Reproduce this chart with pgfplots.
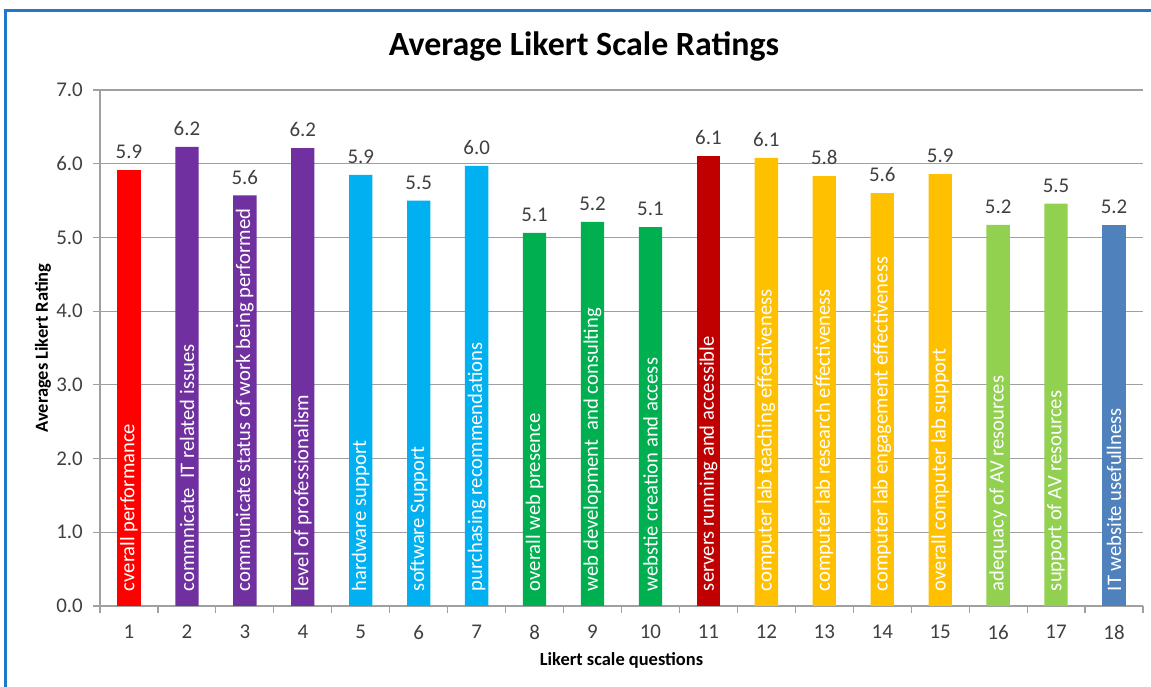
\documentclass[border=0pt]{standalone}
\usepackage{fontspec}
\setmainfont{Carlito}
\usepackage{pgfplots}
\pgfplotsset{compat=1.18}

\definecolor{cRed}{HTML}{FF0000}
\definecolor{cPurple}{HTML}{7030A0}
\definecolor{cSky}{HTML}{00B0F0}
\definecolor{cGreen}{HTML}{00B050}
\definecolor{cDarkRed}{HTML}{C00000}
\definecolor{cGold}{HTML}{FFC000}
\definecolor{cLime}{HTML}{92D050}
\definecolor{cSteel}{HTML}{4F81BD}
\definecolor{gridgray}{HTML}{A0A0A0}
\definecolor{txtgray}{HTML}{404040}
\definecolor{frameblue}{HTML}{1F78C8}

\newcommand{\barlbl}{\fontsize{20.7}{22}\selectfont}

\begin{document}
\begin{tikzpicture}[x=1bp,y=1bp]
\useasboundingbox (0,0) rectangle (1151,687);
\fill[white] (0,0) rectangle (1151,687);
\draw[frameblue, line width=3bp] (5,-20) -- (5,676) -- (1170,676);

\node[font=\bfseries\fontsize{34}{36}\selectfont, anchor=base] at (584,631) {Average Likert Scale Ratings};

\begin{axis}[
    at={(100bp,81bp)}, anchor=south west,
    scale only axis, width=1043bp, height=516bp,
    ybar, bar shift=0pt, bar width=23.3bp,
    xmin=0.5, xmax=18.5, ymin=0, ymax=7,
    xtick={1,...,18},
    minor xtick={0.5,1.5,...,18.5},
    ytick={0,1,...,7},
    axis lines*=left,
    tick align=outside,
    major tick length=7bp, minor tick length=7bp,
    major x tick style={draw=none},
    axis line style={gridgray, line width=1.2bp},
    tick style={gridgray, line width=1.2bp},
    ymajorgrids,
    grid style={gridgray, line width=1.2bp},
    /pgf/number format/assume math mode=true,
    yticklabel={\pgfmathprintnumber[fixed,fixed zerofill,precision=1]{\tick}},
    tick label style={font=\fontsize{21}{23}\selectfont, text=txtgray},
    yticklabel style={inner sep=0pt, anchor=east, xshift=-10bp},
    xticklabel style={inner sep=0pt, anchor=north, yshift=-12bp},
    xlabel={Likert scale questions},
    ylabel={Averages Likert Rating},
    label style={font=\bfseries\fontsize{18.5}{20}\selectfont},
    xlabel style={at={(rel axis cs:0.5,0)}, anchor=center, yshift=-54bp},
    ylabel style={at={(rel axis cs:0,0.5)}, anchor=center, yshift=57bp},
    nodes near coords={\pgfmathprintnumber[fixed,fixed zerofill,precision=1]{\pgfplotspointmeta}},
    every node near coord/.append style={font=\fontsize{21}{23}\selectfont, text=txtgray, anchor=south, inner sep=0pt, yshift=11bp},
]
\addplot[fill=cRed, draw=none] coordinates {(1,5.92)};
\addplot[fill=cPurple, draw=none] coordinates {(2,6.23) (3,5.57) (4,6.21)};
\addplot[fill=cSky, draw=none] coordinates {(5,5.85) (6,5.50) (7,5.97)};
\addplot[fill=cGreen, draw=none] coordinates {(8,5.06) (9,5.21) (10,5.14)};
\addplot[fill=cDarkRed, draw=none] coordinates {(11,6.10)};
\addplot[fill=cGold, draw=none] coordinates {(12,6.08) (13,5.83) (14,5.60) (15,5.86)};
\addplot[fill=cLime, draw=none] coordinates {(16,5.17) (17,5.46)};
\addplot[fill=cSteel, draw=none] coordinates {(18,5.17)};

\begin{scope}[every node/.style={rotate=90, anchor=west, inner sep=0pt, text=white, font=\barlbl}]
\node at (axis cs:1,0.2) {cverall performance};
\node at (axis cs:2,0.2) {commnicate~ IT related issues};
\node at (axis cs:3,0.2) {communicate status of work being performed};
\node at (axis cs:4,0.2) {level of professionalism};
\node at (axis cs:5,0.2) {hardware support};
\node at (axis cs:6,0.2) {software Support};
\node at (axis cs:7,0.2) {purchasing recommendations};
\node at (axis cs:8,0.2) {overall web presence};
\node at (axis cs:9,0.2) {web development~ and consulting};
\node at (axis cs:10,0.2) {webstie creation and access};
\node at (axis cs:11,0.2) {servers running and accessible};
\node at (axis cs:12,0.2) {computer lab teaching effectiveness};
\node at (axis cs:13,0.2) {computer lab research effectiveness};
\node at (axis cs:14,0.2) {computer lab engagement effectiveness};
\node at (axis cs:15,0.2) {overall computer lab support};
\node at (axis cs:16,0.2) {adequacy of AV resources};
\node at (axis cs:17,0.2) {support of AV resources};
\node at (axis cs:18,0.2) {IT website usefullness};
\end{scope}
\end{axis}
\end{tikzpicture}
\end{document}
